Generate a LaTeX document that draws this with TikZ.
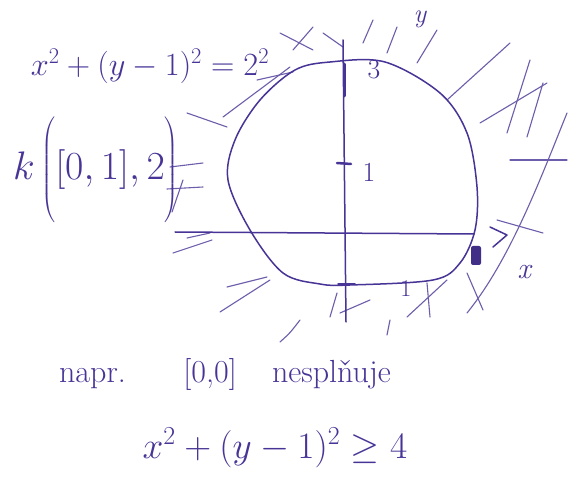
\documentclass[tikz,border=0pt]{standalone}
\usepackage{fontspec}
\definecolor{inkc}{RGB}{72,52,150}
\begin{document}
\begin{tikzpicture}[x=1pt,y=-1pt,
  ink/.style={draw=inkc, line width=1.5pt, line cap=round, line join=round},
  hatch/.style={draw=inkc!80, line width=1.1pt, line cap=round},
  lbl/.style={text=inkc, inner sep=0pt, font=\fontsize{24}{24}\selectfont}]
\useasboundingbox (0,0) rectangle (573,494);
\fill[white] (0,0) rectangle (573,494);
% hatching outside the circle
\draw[hatch] (280,33) -- (313,50);
\draw[hatch] (313,27) -- (293,50);
\draw[hatch] (323,33) -- (343,47);
\draw[hatch] (363,43) -- (373,20);
\draw[hatch] (387,53) -- (397,27);
\draw[hatch] (417,63) -- (437,30);
\draw[hatch] (447,100) -- (510,43);
\draw[hatch] (480,123) -- (547,83);
\draw[hatch] (507,133) -- (530,60);
\draw[hatch] (527,137) -- (543,83);
\draw[hatch] (510,160) -- (567,160);
\draw[hatch] (567,113) .. controls (540,180) and (510,260) .. (467,313);
\draw[hatch] (497,220) -- (543,233);
\draw[hatch] (467,273) -- (483,310);
\draw[hatch] (427,283) -- (430,317);
\draw[hatch] (407,317) -- (447,280);
\draw[hatch] (187,113) -- (227,127);
\draw[hatch] (223,117) -- (290,67);
\draw[hatch] (257,80) -- (293,72);
\draw[hatch] (170,167) -- (203,163);
\draw[hatch] (167,189) -- (203,187);
\draw[hatch] (183,180) -- (172,212);
\draw[hatch] (187,238) -- (210,233);
\draw[hatch] (173,253) -- (212,240);
\draw[hatch] (227,287) -- (267,277);
\draw[hatch] (220,312) -- (270,280);
\draw[hatch] (330,317) -- (337,293);
\draw[hatch] (340,313) -- (370,300);
\draw[hatch] (280,342) .. controls (290,333) .. (300,320);
\draw[hatch] (387,335) -- (390,320);
% the circle
\draw[ink] plot[smooth cycle, tension=0.55] coordinates {
 (330,62) (385,62) (440,93) (467,133) (477,187) (475,230) (460,263)
 (433,280) (350,285) (320,284) (283,273) (250,230) (228,180) (235,140)
 (260,100) (295,70)};
% axes
\coordinate (yb) at (346,322);
\coordinate (yt) at (343,40);
\coordinate (xl) at (175,232);
\coordinate (xr) at (474,234);
\draw[ink] (yb) -- (yt);
\draw[ink] (xl) -- (xr);
\draw[ink, line width=3pt] (344,64) -- (344,96);
\draw[ink, line width=2.5pt] (337,163) -- (351,164);
\draw[ink] (338,284) -- (355,284);
\draw[ink] (490,227) -- (507,235) -- (493,247);
\fill[inkc!90!black, rounded corners=2pt] (471,246) rectangle (481,265);
% axis labels
\node[lbl] (lab1) at (369,172) {\scalebox{1.15}{1}};
\node[lbl] (lab3) at (374,70) {\scalebox{1.15}{3}};
\node[lbl] (labm1) at (406,289) {1};
\node[lbl, font=\fontsize{24}{24}\selectfont\itshape] (laby) at (420,19) {\scalebox{1.1}{y}};
\node[lbl, font=\fontsize{24}{24}\selectfont\itshape] (labx) at (524,272) {\scalebox{1.25}{x}};
% texts
\node[lbl] (eq1) at (150,66) {\scalebox{1.3}{$x^2+(y-1)^2=2^2$}};
\node[lbl] (kk) at (96,170) {\scalebox{1.6}{$k\left(\rule[-27pt]{0pt}{60pt}[0,1],2\right)$}};
\node[lbl, font=\fontsize{32}{32}\selectfont] (napr) at (225,374) {napr.\hspace{1.8em}[0,0]\hspace{1.1em}nesplňuje};
\node[lbl] (eq2) at (275,448) {\scalebox{1.5}{$x^2+(y-1)^2\geq 4$}};
\end{tikzpicture}
\end{document}
